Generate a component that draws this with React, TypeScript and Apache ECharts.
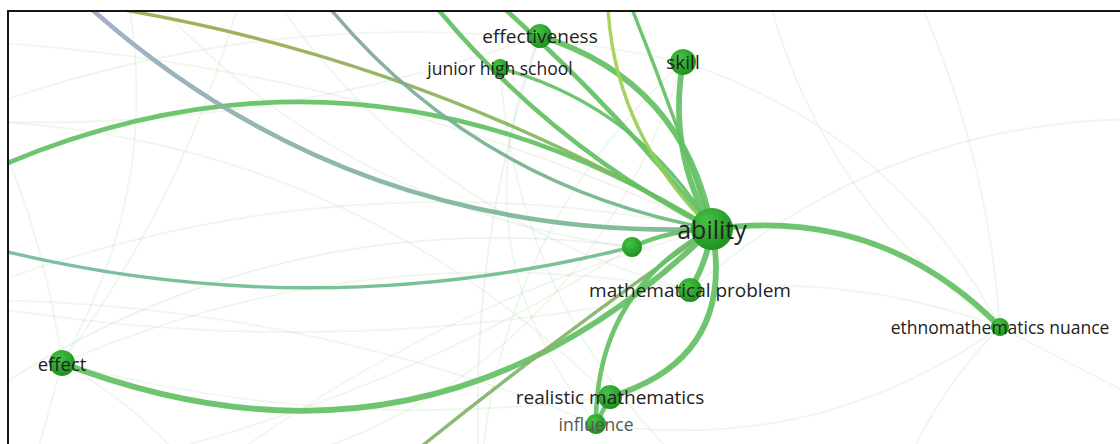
import React, { useEffect, useRef } from "react";
import * as echarts from "echarts";

// ---- keyword nodes (map coordinates) ----
const keywords = [
  "ability",
  "effectiveness",
  "junior high school",
  "skill",
  "k5",
  "mathematical problem",
  "ethnomathematics nuance",
  "effect",
  "realistic mathematics",
  "influence",
];
const keywordX = [712, 540, 500, 683, 632, 690, 1000, 62, 610, 596];
const keywordY = [229, 36, 68, 62, 247, 290, 327, 363, 397, 424];
const occurrences = [42, 24, 18, 26, 20, 24, 18, 26, 24, 20];
const labelShown = [1, 1, 1, 1, 0, 1, 1, 1, 1, 1];

// ---- keywords lying outside the visible window ----
const hiddenKeywords = [
  "oL1", "oL2", "oT1", "oT2", "oT3", "oT4", "oT5", "oT6", "oT7", "oB1",
  "f1", "f2", "f3", "f4", "f5", "f6", "f7", "f8", "f9", "f10", "f11", "f12", "f13", "f14", "f15",
];
const hiddenX = [
  -80, -80, 40, -60, 300, 400, 460, 608, 612, 380,
  -50, -50, -50, -50, 120, 250, 760, 900, 1180, 1180, 900, 200, 30, 480, 700,
];
const hiddenY = [
  205, 228, -40, -12, -30, -40, -30, -40, -40, 480,
  40, 120, 300, 420, -40, -40, -40, -40, 120, 420, 480, 480, 480, 480, 480,
];

// ---- co-occurrence links ----
const linkFrom = [
  // faint links
  "f1", "f2", "f2", "f3", "f3", "f4", "f5", "f5", "f6", "f6",
  "effect", "effect", "effect", "effect", "effect", "f7", "f8", "skill", "mathematical problem", "ethnomathematics nuance",
  "ethnomathematics nuance", "ethnomathematics nuance", "f9", "skill", "skill", "junior high school", "effectiveness", "f12", "f14", "influence",
  "realistic mathematics", "k5",
  // strong links
  "ability", "effect", "oL1", "oL2", "oT1", "oT2", "oT3", "skill", "effectiveness", "junior high school",
  "oT4", "oT5", "oT6", "oT7", "k5", "oB1", "ability", "ability", "ability", "realistic mathematics",
];
const linkTo = [
  "ability", "effectiveness", "skill", "ability", "mathematical problem", "k5", "k5", "effect", "effect", "mathematical problem",
  "mathematical problem", "realistic mathematics", "f13", "f12", "f1", "ethnomathematics nuance", "ethnomathematics nuance", "ethnomathematics nuance", "ethnomathematics nuance", "influence",
  "f10", "f11", "mathematical problem", "f14", "f12", "f15", "influence", "ability", "effectiveness", "f3",
  "f2", "f13",
  "ethnomathematics nuance", "ability", "ability", "k5", "ability", "ability", "ability", "ability", "ability", "ability",
  "ability", "ability", "ability", "ability", "ability", "ability", "mathematical problem", "realistic mathematics", "influence", "influence",
];
const linkStrength = [
  1, 1, 1, 1, 1, 1, 1, 1, 1, 1,
  1, 1, 1, 1, 1, 1, 1, 1, 1, 1,
  1, 1, 1, 1, 1, 1, 1, 1, 1, 1,
  1, 1,
  5, 5, 4, 3, 4, 3, 3, 5, 5, 3,
  4, 4, 3, 3, 4, 3, 5, 5, 4, 4,
];
// average publication year class (overlay colour)
const linkYearClass = [
  4, 0, 0, 0, 0, 1, 0, 0, 4, 0,
  0, 0, 0, 4, 0, 0, 0, 0, 0, 0,
  0, 0, 0, 0, 4, 0, 0, 0, 1, 0,
  0, 4,
  0, 0, 0, 1, 2, 3, 5, 0, 0, 0,
  0, 0, 4, 0, 0, 6, 0, 0, 0, 0,
];

// ---- styles ----
const linkBend = [
  0.1, -0.1, 0.15, 0.15, -0.1, 0.2, -0.2, 0.2, 0.1, -0.2,
  0.15, -0.1, 0, 0.1, -0.1, -0.2, 0.1, 0.2, 0.12, 0.2,
  0, -0.1, -0.2, -0.2, 0.3, -0.2, -0.3, 0.1, 0.1, -0.1,
  -0.2, 0.1,
  0.25, -0.32, 0.29, -0.14, -0.22, 0.12, -0.2, -0.18, 0.3, 0.2,
  -0.12, 0.05, -0.23, 0.02, 0.1, 0.02, 0.1, 0.45, -0.3, 0,
];

const yearColors: [string, string][] = [
  ["#63c063", "#63c063"],
  ["#78b7a6", "#6bbd86"],
  ["#a4a6cc", "#72b98a"],
  ["#a6a24e", "#76bf5e"],
  ["#a9d053", "#8ccb55"],
  ["#84a0a6", "#6cbb7e"],
  ["#8fac6c", "#78bb66"],
];
const faintColors = ["rgba(120,190,120,0.13)", "rgba(200,205,150,0.2)", "rgba(150,170,200,0.16)"];

function linkColor(i: number) {
  const cls = linkYearClass[i];
  if (linkStrength[i] <= 1) return cls === 4 ? faintColors[1] : cls === 1 ? faintColors[2] : faintColors[0];
  const [a, b] = yearColors[cls];
  if (a === b) return a;
  return {
    type: "linear",
    x: 0,
    y: 0,
    x2: 1,
    y2: 1,
    colorStops: [
      { offset: 0, color: a },
      { offset: 1, color: b },
    ],
  };
}

const labelFontSize: Record<string, number> = {
  ability: 25,
  effectiveness: 19,
  "junior high school": 17.5,
  skill: 19,
  "mathematical problem": 19,
  "ethnomathematics nuance": 17.5,
  effect: 18.5,
  "realistic mathematics": 19,
  influence: 17.5,
};

export default function App() {
  const ref = useRef<HTMLDivElement>(null);

  useEffect(() => {
    if (!ref.current) return;
    const chart = echarts.init(ref.current, undefined, { renderer: "svg" });

    const nodeGradient = {
      type: "radial",
      x: 0.38,
      y: 0.32,
      r: 0.75,
      colorStops: [
        { offset: 0, color: "#46c246" },
        { offset: 1, color: "#1a8e1a" },
      ],
    };

    const nodes: any[] = keywords.map((k, i) => ({
      name: k,
      value: [keywordX[i], keywordY[i]],
      symbolSize: occurrences[i],
      itemStyle: { color: nodeGradient },
      label: {
        show: labelShown[i] === 1,
        position: "inside",
        formatter: k,
        fontFamily: "Open Sans",
        fontSize: labelFontSize[k] || 16,
        color: k === "influence" ? "#555555" : "#222222",
      },
    }));
    hiddenKeywords.forEach((k, i) => {
      nodes.push({
        name: k,
        value: [hiddenX[i], hiddenY[i]],
        symbolSize: 0,
        itemStyle: { opacity: 0 },
        label: { show: false },
      });
    });

    const links = linkFrom.map((s, i) => {
      const strong = linkStrength[i] > 1;
      return {
        source: s,
        target: linkTo[i],
        lineStyle: {
          width: strong ? linkStrength[i] * 1.15 : 1.8,
          color: linkColor(i),
          opacity: strong ? 0.92 : 1,
          curveness: linkBend[i],
        },
      };
    });

    chart.setOption({
      animation: false,
      grid: { left: 0, right: 0, top: 0, bottom: 0 },
      xAxis: { type: "value", min: 9, max: 1120, show: false },
      yAxis: { type: "value", min: 12, max: 444, inverse: true, show: false },
      series: [
        {
          type: "graph",
          coordinateSystem: "cartesian2d",
          layout: "none",
          silent: true,
          emphasis: { disabled: true },
          edgeSymbol: ["none", "none"],
          data: nodes,
          links,
        },
      ],
    });
    return () => chart.dispose();
  }, []);

  return (
    <div
      style={{
        position: "absolute",
        left: 7,
        top: 10,
        width: 1113,
        height: 434,
        borderTop: "2px solid #151515",
        borderLeft: "2px solid #151515",
        boxSizing: "border-box",
        overflow: "hidden",
        background: "#ffffff",
      }}
    >
      <div ref={ref} style={{ width: 1111, height: 432 }} />
    </div>
  );
}
